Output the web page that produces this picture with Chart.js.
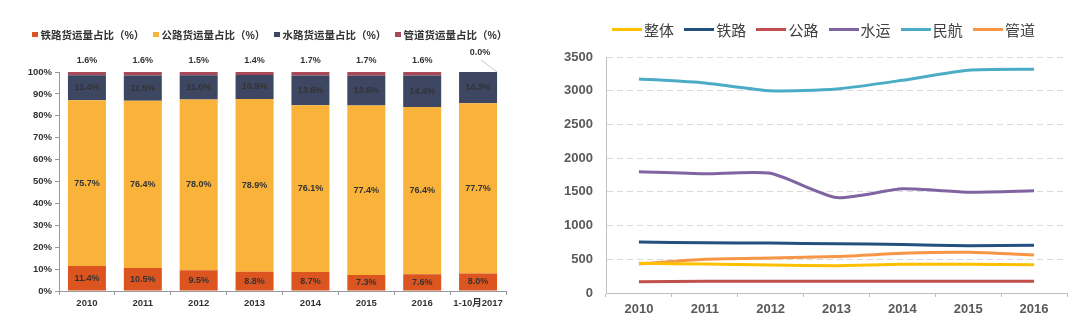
<!DOCTYPE html>
<html>
<head>
<meta charset="utf-8">
<script src="https://cdn.jsdelivr.net/npm/chart.js@4.4.0/dist/chart.umd.min.js"></script>
<style>
  html, body { margin: 0; padding: 0; background: #fff; }
  #wrap { position: relative; width: 1080px; height: 335px; font-family: 'Liberation Sans', 'Noto Sans CJK SC', sans-serif; }
  canvas { position: absolute; top: 0; }
  #shareChart { left: 0; }
  #lineChart { left: 540px; }
  .legend { position: absolute; display: flex; align-items: center; white-space: nowrap; }
  .legend .item { display: flex; align-items: center; }
  #shareLegend { left: 32px; top: 27px; height: 15px; font-size: 10.5px; font-weight: bold; color: #333; }
  #shareLegend .item { width: 121px; }
  #shareLegend .swatch { width: 5.5px; height: 5.5px; margin-right: 3px; }
  #lineLegend { left: 612px; top: 19px; height: 20px; font-size: 15px; color: #404040; }
  #lineLegend .item { width: 72.2px; }
  #lineLegend .swatch { width: 30px; height: 3px; margin-right: 2px; }
</style>
</head>
<body>
<div id="wrap">
  <canvas id="shareChart" width="540" height="335"></canvas>
  <canvas id="lineChart" width="540" height="335"></canvas>
  <div id="shareLegend" class="legend"></div>
  <div id="lineLegend" class="legend"></div>
</div>
<script>
// left chart: freight share by mode (%)
const years = ['2010', '2011', '2012', '2013', '2014', '2015', '2016', '1-10月2017'];
const railShare  = [11.4, 10.5, 9.5, 8.8, 8.7, 7.3, 7.6, 8.0];
const roadShare  = [75.7, 76.4, 78.0, 78.9, 76.1, 77.4, 76.4, 77.7];
const waterShare = [11.4, 11.5, 11.0, 10.9, 13.6, 13.6, 14.4, 14.3];
const pipeShare  = [1.6, 1.6, 1.5, 1.4, 1.7, 1.7, 1.6, 0.0];

// right chart: values by mode
const lineYears = ['2010', '2011', '2012', '2013', '2014', '2015', '2016'];
const overall  = [440, 430, 415, 405, 425, 425, 420];
const railway  = [755, 745, 740, 730, 720, 700, 710];
const highway  = [165, 175, 175, 175, 175, 175, 175];
const waterway = [1800, 1770, 1775, 1415, 1545, 1495, 1515];
const aviation = [3175, 3115, 3000, 3025, 3155, 3305, 3320];
const pipeline = [430, 500, 520, 540, 590, 605, 565];

Chart.defaults.font.family = "'Liberation Sans', 'Noto Sans CJK SC', sans-serif";
Chart.defaults.animation = false;

// value labels on the stacked bars
const shareLabels = {
  id: 'shareLabels',
  afterDatasetsDraw(chart) {
    const ctx = chart.ctx;
    ctx.save();
    ctx.font = "bold 9px 'Liberation Sans', sans-serif";
    ctx.fillStyle = '#333';
    ctx.textAlign = 'center';
    ctx.textBaseline = 'middle';
    chart.data.datasets.forEach((ds, i) => {
      chart.getDatasetMeta(i).data.forEach((bar, j) => {
        const v = ds.data[j];
        const txt = v.toFixed(1) + '%';
        if (i < 3) {
          ctx.fillText(txt, bar.x, (bar.y + bar.base) / 2);
        } else if (v > 0) {
          ctx.fillText(txt, bar.x, bar.y - 11);
        } else {
          // zero share: label lifted, pointer to bar corner
          ctx.fillText(txt, bar.x + 2, bar.y - 19);
          ctx.strokeStyle = '#c8c8c8';
          ctx.lineWidth = 1;
          ctx.beginPath();
          ctx.moveTo(bar.x + 3, bar.y - 12);
          ctx.lineTo(bar.x + bar.width / 2, bar.y);
          ctx.stroke();
        }
      });
    });
    ctx.restore();
  }
};

// html legend built from the chart's datasets
function buildLegend(chart, id) {
  const box = document.getElementById(id);
  chart.data.datasets.forEach(ds => {
    const item = document.createElement('span');
    item.className = 'item';
    const sw = document.createElement('span');
    sw.className = 'swatch';
    sw.style.background = ds.borderColor || ds.backgroundColor;
    item.appendChild(sw);
    item.appendChild(document.createTextNode(ds.label));
    box.appendChild(item);
  });
}

const smallFont = { size: 9.5, weight: 'bold' };

const shareChart = new Chart(document.getElementById('shareChart'), {
  type: 'bar',
  data: {
    labels: years,
    datasets: [
      { label: '铁路货运量占比（%）', data: railShare, backgroundColor: '#DC5520' },
      { label: '公路货运量占比（%）', data: roadShare, backgroundColor: '#F9B23A' },
      { label: '水路货运量占比（%）', data: waterShare, backgroundColor: '#3D4762' },
      { label: '管道货运量占比（%）', data: pipeShare, backgroundColor: '#A8495A' }
    ]
  },
  options: {
    responsive: false,
    barPercentage: 0.68,
    categoryPercentage: 1,
    layout: { padding: { left: 0, right: 34, top: 72, bottom: 0 } },
    plugins: {
      legend: { display: false },
      tooltip: { enabled: false }
    },
    scales: {
      x: {
        stacked: true,
        afterFit: s => { s.height = 44; },
        grid: { offset: true, drawOnChartArea: false, tickLength: 4, color: '#999' },
        border: { color: '#999' },
        ticks: { color: '#333', font: smallFont, padding: 3, maxRotation: 0, autoSkip: false }
      },
      y: {
        stacked: true,
        min: 0,
        max: 100,
        afterFit: s => { s.width = 59; },
        grid: { drawOnChartArea: false, tickLength: 4, color: '#999' },
        border: { color: '#999' },
        ticks: { stepSize: 10, color: '#333', font: smallFont, padding: 3, callback: v => v + '%' }
      }
    }
  },
  plugins: [shareLabels]
});
buildLegend(shareChart, 'shareLegend');

function lineSet(label, data, color) {
  return {
    label: label, data: data,
    borderColor: color, backgroundColor: color,
    borderWidth: 3, pointRadius: 0, tension: 0.2
  };
}

const lineChart = new Chart(document.getElementById('lineChart'), {
  type: 'line',
  data: {
    labels: lineYears,
    datasets: [
      lineSet('整体', overall, '#FFC000'),
      lineSet('铁路', railway, '#24507F'),
      lineSet('公路', highway, '#C0504D'),
      lineSet('水运', waterway, '#8064A2'),
      lineSet('民航', aviation, '#4BACC6'),
      lineSet('管道', pipeline, '#F79646')
    ]
  },
  options: {
    responsive: false,
    layout: { padding: { left: 0, right: 13, top: 57, bottom: 0 } },
    plugins: {
      legend: { display: false },
      tooltip: { enabled: false }
    },
    scales: {
      x: {
        offset: true,
        afterFit: s => { s.height = 42; },
        grid: { offset: true, drawOnChartArea: false, tickLength: 4, color: '#BFBFBF' },
        border: { color: '#BFBFBF' },
        ticks: { color: '#595959', font: { size: 13, weight: 'bold' }, padding: 5 }
      },
      y: {
        min: 0,
        max: 3500,
        afterFit: s => { s.width = 66; },
        grid: { drawTicks: false, color: c => c.tick.value === 0 ? 'rgba(0,0,0,0)' : '#D9D9D9' },
        border: { color: '#BFBFBF', dash: [6, 4] },
        ticks: { stepSize: 500, color: '#595959', font: { size: 13, weight: 'bold' }, padding: 13, callback: v => String(v) }
      }
    }
  }
});
buildLegend(lineChart, 'lineLegend');
</script>
</body>
</html>
